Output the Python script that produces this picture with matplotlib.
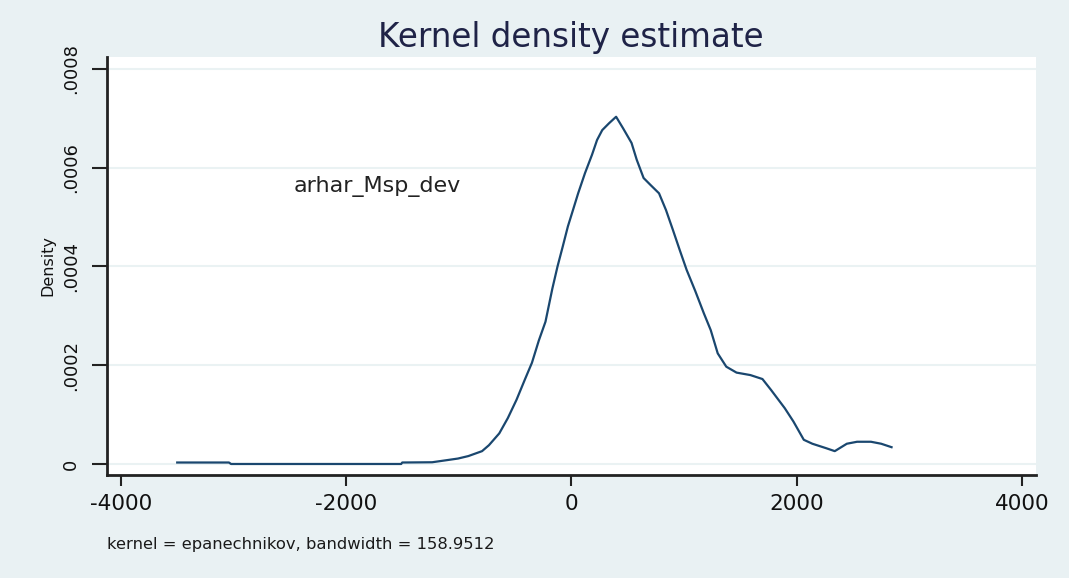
import matplotlib
matplotlib.use("Agg")
import matplotlib.pyplot as plt

# kernel density of arhar_Msp_dev (epanechnikov)
dev_x = [-3498, -3039, -3020, -1510, -1500, -1235, -1097, -1006, -914, -792,
         -731, -639, -563, -486, -410, -349, -288, -229, -168, -122,
         -76, -30, 15, 61, 122, 184, 229, 275, 336, 398,
         459, 535, 581, 642, 703, 779, 841, 902, 963, 1024,
         1101, 1177, 1238, 1300, 1376, 1467, 1590, 1697, 1773, 1895,
         1972, 2064, 2140, 2262, 2339, 2446, 2537, 2660, 2751, 2843]
dens = [0.000003, 0.000003, 0.0, 0.0, 0.000003, 0.0000035, 0.000008, 0.000011, 0.000016, 0.000026,
        0.000038, 0.000062, 0.000093, 0.000130, 0.000172, 0.000205, 0.000250, 0.000288, 0.000355, 0.000400,
        0.000440, 0.000481, 0.000514, 0.000548, 0.000589, 0.000626, 0.000656, 0.000676, 0.000690, 0.000703,
        0.000680, 0.000650, 0.000616, 0.000579, 0.000565, 0.000548, 0.000514, 0.000474, 0.000433, 0.000393,
        0.000350, 0.000305, 0.000271, 0.000224, 0.000197, 0.000185, 0.000180, 0.000172, 0.000150, 0.000113,
        0.000086, 0.000049, 0.000041, 0.000032, 0.000026, 0.000041, 0.000045, 0.000045, 0.000041, 0.000034]

xticks = [-4000, -2000, 0, 2000, 4000]
yticks = [0, 0.0002, 0.0004, 0.0006, 0.0008]
ylabels = ["0", ".0002", ".0004", ".0006", ".0008"]

bg = "#e9f1f3"
plt.rcParams["font.family"] = "DejaVu Sans"
plt.rcParams["axes.unicode_minus"] = False

fig = plt.figure(figsize=(10.69, 5.78), dpi=100, facecolor=bg)
ax = fig.add_axes([0.0998, 0.1782, 0.8693, 0.7232])
ax.set_facecolor("white")

ax.plot(dev_x, dens, color="#1a476f", lw=1.6)

ax.set_xlim(-4124, 4125)
ax.set_ylim(-0.0000223, 0.000824)
ax.set_xticks(xticks)
ax.set_yticks(yticks)
ax.set_yticklabels(ylabels, rotation=90, va="center")
ax.tick_params(axis="x", length=8, width=1.5, color="#222222", labelsize=15.5,
               labelcolor="#111111", pad=6)
ax.tick_params(axis="y", length=11, width=1.5, color="#222222", labelsize=13,
               labelcolor="#111111", pad=8)

for y in yticks:
    ax.axhline(y, color="#eaf2f3", lw=1.5, zorder=0)

for s in ["top", "right"]:
    ax.spines[s].set_visible(False)
for s in ["left", "bottom"]:
    ax.spines[s].set_color("#222222")
    ax.spines[s].set_linewidth(2)

ax.set_ylabel("Density", fontsize=11.5, labelpad=5, color="#111111")
ax.text(-2462, 0.000551, "arhar_Msp_dev", fontsize=16, color="#222222",
        ha="left", va="baseline")

fig.text(0.534, 0.9187, "Kernel density estimate", fontsize=23.5, color="#1f2347",
         ha="center", va="baseline")
fig.text(0.1, 1 - 545 / 578, "kernel = epanechnikov, bandwidth = 158.9512",
         fontsize=11.8, color="#1a1a1a", ha="left", va="center")

fig.savefig("out.png", dpi=100, facecolor=bg)
